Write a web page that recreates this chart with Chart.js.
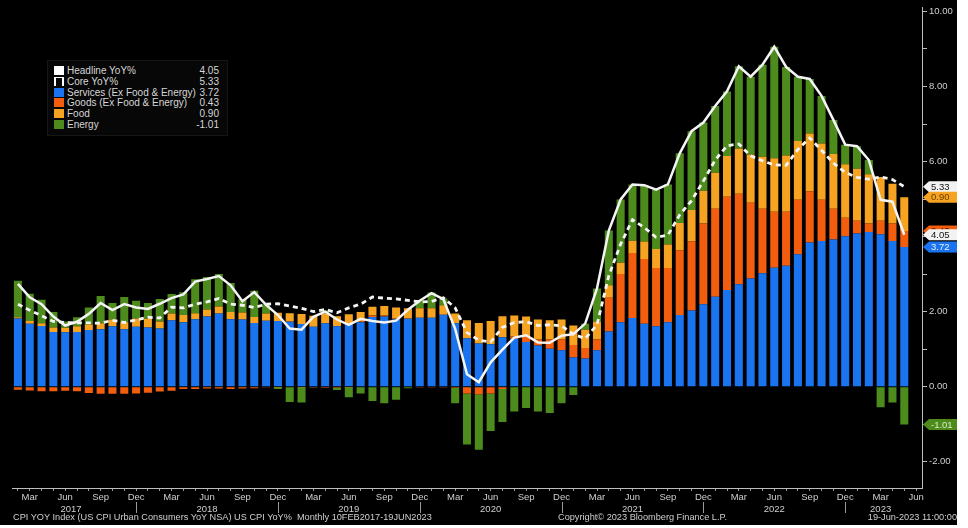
<!DOCTYPE html>
<html>
<head>
<meta charset="utf-8">
<script src="https://cdn.jsdelivr.net/npm/chart.js@4.4.1/dist/chart.umd.min.js"></script>
<style>
html, body { margin: 0; padding: 0; background: #fff; }
#wrap { position: relative; width: 957px; height: 525px; background: #000; overflow: hidden; font-family: "Liberation Sans", Arial, sans-serif; }
#chart { position: absolute; left: 0; top: 0; }
#legend { position: absolute; left: 47px; top: 60px; width: 179px; height: 74px; background: #070707; border: 1px solid #161616; }
.row { position: absolute; left: 6px; right: 8px; height: 11px; font-size: 10px; line-height: 11px; color: #d6d6d6; white-space: nowrap; }
.sw { position: absolute; left: 0; top: 1px; width: 10px; height: 9px; }
.sw.dash { width: 6px; height: 8px; background: transparent; border-left: 2px dashed #fff; border-right: 2px dashed #fff; border-top: 1px solid #fff; top: 1px; }
.lab { position: absolute; left: 13px; }
.val { position: absolute; right: 0; }
.foot { position: absolute; top: 512px; font-size: 9.2px; line-height: 11px; color: #cfcfcf; white-space: nowrap; }
</style>
</head>
<body>
<div id="wrap">
  <canvas id="chart" width="957" height="525"></canvas>
  <div id="legend"></div>
  <div class="foot" style="left:13px">CPI YOY Index (US CPI Urban Consumers YoY NSA) US CPI YoY%&nbsp; Monthly 10FEB2017-19JUN2023</div>
  <div class="foot" style="left:558px">Copyright© 2023 Bloomberg Finance L.P.</div>
  <div class="foot" style="right:0">19-Jun-2023 11:00:00</div>
</div>
<script>
// monthly categories, Feb 2017 .. Jun 2023 (last month has no data yet)
const months = [
  'Feb 2017','Mar 2017','Apr 2017','May 2017','Jun 2017','Jul 2017','Aug 2017','Sep 2017','Oct 2017','Nov 2017','Dec 2017',
  'Jan 2018','Feb 2018','Mar 2018','Apr 2018','May 2018','Jun 2018','Jul 2018','Aug 2018','Sep 2018','Oct 2018','Nov 2018','Dec 2018',
  'Jan 2019','Feb 2019','Mar 2019','Apr 2019','May 2019','Jun 2019','Jul 2019','Aug 2019','Sep 2019','Oct 2019','Nov 2019','Dec 2019',
  'Jan 2020','Feb 2020','Mar 2020','Apr 2020','May 2020','Jun 2020','Jul 2020','Aug 2020','Sep 2020','Oct 2020','Nov 2020','Dec 2020',
  'Jan 2021','Feb 2021','Mar 2021','Apr 2021','May 2021','Jun 2021','Jul 2021','Aug 2021','Sep 2021','Oct 2021','Nov 2021','Dec 2021',
  'Jan 2022','Feb 2022','Mar 2022','Apr 2022','May 2022','Jun 2022','Jul 2022','Aug 2022','Sep 2022','Oct 2022','Nov 2022','Dec 2022',
  'Jan 2023','Feb 2023','Mar 2023','Apr 2023','May 2023','Jun 2023'
];

const headline = [
  2.74, 2.38, 2.20, 1.87, 1.63, 1.73, 1.94, 2.23, 2.04, 2.20, 2.11,
  2.07, 2.21, 2.36, 2.46, 2.80, 2.87, 2.95, 2.70, 2.28, 2.52, 2.18, 1.91,
  1.55, 1.52, 1.86, 2.00, 1.79, 1.65, 1.81, 1.75, 1.71, 1.76, 2.05, 2.29,
  2.49, 2.33, 1.54, 0.33, 0.12, 0.65, 0.99, 1.31, 1.37, 1.18, 1.17, 1.36,
  1.40, 1.68, 2.62, 4.16, 4.99, 5.39, 5.37, 5.25, 5.39, 6.22, 6.81, 7.04,
  7.48, 7.87, 8.54, 8.26, 8.58, 9.06, 8.52, 8.26, 8.20, 7.75, 7.11, 6.45,
  6.41, 6.04, 4.98, 4.93, 4.05
];

const core = [
  2.20, 2.04, 1.89, 1.74, 1.71, 1.70, 1.70, 1.69, 1.77, 1.71, 1.78,
  1.85, 1.83, 2.12, 2.10, 2.20, 2.26, 2.35, 2.20, 2.17, 2.11, 2.20, 2.21,
  2.15, 2.09, 2.00, 2.06, 1.97, 2.10, 2.20, 2.39, 2.36, 2.34, 2.30, 2.26,
  2.27, 2.37, 2.10, 1.44, 1.24, 1.19, 1.58, 1.71, 1.73, 1.63, 1.65, 1.62,
  1.40, 1.28, 1.65, 2.96, 3.80, 4.45, 4.24, 3.98, 4.04, 4.58, 4.96, 5.48,
  6.04, 6.42, 6.47, 6.15, 6.02, 5.91, 5.90, 6.32, 6.63, 6.30, 5.96, 5.71,
  5.58, 5.53, 5.59, 5.52, 5.33
];

const services = [
  1.82, 1.68, 1.62, 1.46, 1.45, 1.46, 1.51, 1.53, 1.61, 1.53, 1.60,
  1.58, 1.55, 1.77, 1.72, 1.80, 1.87, 1.95, 1.80, 1.79, 1.70, 1.76, 1.75,
  1.73, 1.67, 1.60, 1.69, 1.61, 1.67, 1.72, 1.86, 1.87, 1.80, 1.81, 1.84,
  1.84, 1.92, 1.69, 1.29, 1.15, 1.13, 1.32, 1.28, 1.19, 1.10, 1.01, 0.97,
  0.78, 0.75, 0.97, 1.47, 1.72, 1.83, 1.68, 1.61, 1.72, 1.91, 2.03, 2.20,
  2.40, 2.58, 2.73, 2.88, 3.02, 3.17, 3.22, 3.53, 3.84, 3.88, 3.92, 4.01,
  4.08, 4.12, 4.06, 3.88, 3.72
];

const goods = [
  -0.08, -0.10, -0.12, -0.12, -0.11, -0.12, -0.17, -0.19, -0.19, -0.19, -0.18,
  -0.16, -0.13, -0.11, -0.06, -0.06, -0.05, -0.05, -0.06, -0.05, -0.04, -0.02, -0.01,
  0.01, -0.01, -0.02, -0.03, -0.03, -0.01, 0.02, 0.04, 0.03, 0.02, 0.01, -0.02,
  -0.02, -0.02, -0.03, -0.18, -0.20, -0.18, -0.06, 0.06, 0.15, 0.16, 0.25, 0.29,
  0.33, 0.28, 0.29, 0.90, 1.28, 1.73, 1.72, 1.55, 1.44, 1.72, 1.84, 2.15,
  2.34, 2.48, 2.41, 2.02, 1.72, 1.49, 1.44, 1.45, 1.37, 1.10, 0.82, 0.49,
  0.34, 0.23, 0.36, 0.47, 0.43
];

const food = [
  0.03, 0.07, 0.07, 0.12, 0.12, 0.15, 0.15, 0.16, 0.18, 0.19, 0.22,
  0.23, 0.19, 0.18, 0.19, 0.16, 0.19, 0.19, 0.19, 0.19, 0.16, 0.19, 0.22,
  0.22, 0.27, 0.29, 0.26, 0.27, 0.26, 0.25, 0.23, 0.25, 0.29, 0.27, 0.25,
  0.25, 0.25, 0.26, 0.48, 0.55, 0.62, 0.56, 0.56, 0.53, 0.53, 0.51, 0.53,
  0.52, 0.49, 0.48, 0.33, 0.30, 0.33, 0.47, 0.51, 0.63, 0.73, 0.84, 0.87,
  0.96, 1.09, 1.21, 1.29, 1.39, 1.43, 1.50, 1.57, 1.54, 1.50, 1.46, 1.43,
  1.39, 1.31, 1.17, 1.06, 0.90
];

const energy = [
  0.97, 0.73, 0.63, 0.41, 0.17, 0.24, 0.45, 0.73, 0.44, 0.67, 0.47,
  0.42, 0.60, 0.52, 0.61, 0.90, 0.86, 0.86, 0.77, 0.35, 0.70, 0.25, -0.05,
  -0.41, -0.41, -0.01, 0.08, -0.06, -0.27, -0.18, -0.38, -0.44, -0.35, -0.04, 0.22,
  0.42, 0.18, -0.41, -1.36, -1.48, -1.00, -0.88, -0.66, -0.57, -0.66, -0.70, -0.44,
  -0.22, 0.16, 0.88, 1.46, 1.69, 1.50, 1.50, 1.58, 1.60, 1.86, 2.10, 1.82,
  1.78, 1.72, 2.19, 2.07, 2.45, 2.97, 2.36, 1.71, 1.45, 1.27, 0.91, 0.52,
  0.60, 0.38, -0.55, -0.42, -1.01
];

const quarterMonths = ['Mar', 'Jun', 'Sep', 'Dec'];

const COLORS = {
  services: '#1b74ef',
  goods: '#f25e0d',
  food: '#f5a321',
  energy: '#4d8b1d',
  line: '#f4f4f4'
};

// legend (html so text stays text)
const legendRows = [
  { name: 'Headline YoY%', color: '#ffffff', value: headline[headline.length - 1] },
  { name: 'Core YoY%', dash: true, value: core[core.length - 1] },
  { name: 'Services (Ex Food & Energy)', color: COLORS.services, value: services[services.length - 1] },
  { name: 'Goods (Ex Food & Energy)', color: COLORS.goods, value: goods[goods.length - 1] },
  { name: 'Food', color: COLORS.food, value: food[food.length - 1] },
  { name: 'Energy', color: COLORS.energy, value: energy[energy.length - 1] }
];
const legendEl = document.getElementById('legend');
legendRows.forEach((r, i) => {
  const row = document.createElement('div');
  row.className = 'row';
  row.style.top = (4 + i * 10.8) + 'px';
  const sw = document.createElement('span');
  sw.className = r.dash ? 'sw dash' : 'sw';
  if (!r.dash) sw.style.background = r.color;
  const lab = document.createElement('span');
  lab.className = 'lab';
  lab.textContent = r.name;
  const val = document.createElement('span');
  val.className = 'val';
  val.textContent = r.value.toFixed(2);
  row.append(sw, lab, val);
  legendEl.appendChild(row);
});

// year labels under the month ticks, with separators at December
const yearAxisPlugin = {
  id: 'yearAxis',
  afterDraw(chart) {
    const x = chart.scales.x;
    const ctx = chart.ctx;
    const cat = x.getPixelForValue(1) - x.getPixelForValue(0);
    const years = {};
    months.forEach((m, i) => {
      const y = m.slice(4);
      if (!years[y]) years[y] = [i, i];
      years[y][1] = i;
    });
    ctx.save();
    ctx.font = '9.5px "Liberation Sans", Arial, sans-serif';
    ctx.fillStyle = '#cfcfcf';
    ctx.textAlign = 'center';
    ctx.textBaseline = 'middle';
    Object.keys(years).forEach(y => {
      const [a, b] = years[y];
      const cx = (x.getPixelForValue(a) + x.getPixelForValue(b)) / 2 - cat / 2;
      ctx.fillText(y, cx, 509);
    });
    ctx.strokeStyle = '#9a9a9a';
    ctx.lineWidth = 1;
    months.forEach((m, i) => {
      if (m.startsWith('Dec')) {
        const px = Math.round(x.getPixelForValue(i)) + 0.5;
        ctx.beginPath();
        ctx.moveTo(px, 502);
        ctx.lineTo(px, 513);
        ctx.stroke();
      }
    });
    ctx.restore();
  }
};

// last-value tags on the right axis
const valueTagPlugin = {
  id: 'valueTags',
  afterDraw(chart) {
    const y = chart.scales.y;
    const ctx = chart.ctx;
    const n = services.length - 1;
    const left = chart.chartArea.right + 1;
    const svcTop = services[n];
    const goodsTop = services[n] + Math.max(goods[n], 0);
    const foodTop = goodsTop + Math.max(food[n], 0);
    const negBottom = Math.min(goods[n], 0) + Math.min(energy[n], 0);
    const tags = [
      { v: core[n], at: core[n], bg: '#f2f2f2', fg: '#111' },
      { v: food[n], at: foodTop, bg: COLORS.food, fg: '#6a3c00' },
      { v: goods[n], at: goodsTop, bg: COLORS.goods, fg: '#3a1400' },
      { v: headline[n], at: headline[n], bg: '#f2f2f2', fg: '#111' },
      { v: services[n], at: svcTop, bg: COLORS.services, fg: '#e8f0ff' },
      { v: energy[n], at: negBottom, bg: COLORS.energy, fg: '#d9efc4' }
    ];
    ctx.save();
    ctx.font = '9.5px "Liberation Sans", Arial, sans-serif';
    ctx.textBaseline = 'middle';
    ctx.textAlign = 'left';
    tags.forEach(t => {
      const py = y.getPixelForValue(t.at);
      ctx.fillStyle = t.bg;
      ctx.beginPath();
      ctx.moveTo(left, py);
      ctx.lineTo(left + 6, py - 5.5);
      ctx.lineTo(left + 35, py - 5.5);
      ctx.lineTo(left + 35, py + 5.5);
      ctx.lineTo(left + 6, py + 5.5);
      ctx.closePath();
      ctx.fill();
      ctx.fillStyle = t.fg;
      ctx.fillText(t.v.toFixed(2), left + 8, py + 0.5);
    });
    ctx.restore();
  }
};

const barSet = (label, data, color) => ({
  type: 'bar', label, data, backgroundColor: color,
  stack: 'parts', order: 1,
  barPercentage: 0.68, categoryPercentage: 1.0
});

const ctx = document.getElementById('chart').getContext('2d');
new Chart(ctx, {
  data: {
    labels: months,
    datasets: [
      { type: 'line', label: 'Headline YoY%', data: headline, borderColor: COLORS.line, borderWidth: 2.5,
        pointRadius: 0, tension: 0, stack: 'h', order: 0 },
      { type: 'line', label: 'Core YoY%', data: core, borderColor: COLORS.line, borderWidth: 2.8,
        borderDash: [5, 4], pointRadius: 0, tension: 0, stack: 'c', order: 0 },
      barSet('Services (Ex Food & Energy)', services, COLORS.services),
      barSet('Goods (Ex Food & Energy)', goods, COLORS.goods),
      barSet('Food', food, COLORS.food),
      barSet('Energy', energy, COLORS.energy)
    ]
  },
  options: {
    responsive: false,
    animation: false,
    layout: { padding: { left: 12, top: 3, right: 0, bottom: 0 } },
    plugins: { legend: { display: false }, tooltip: { enabled: false } },
    scales: {
      x: {
        stacked: true,
        offset: true,
        afterFit: s => { s.height = 37; },
        grid: { offset: false, drawOnChartArea: false, drawTicks: true, tickLength: 3, color: '#9a9a9a' },
        border: { color: '#bdbdbd', width: 1 },
        ticks: {
          autoSkip: false, maxRotation: 0, padding: 1,
          color: '#cfcfcf', font: { size: 9.5, family: '"Liberation Sans", Arial, sans-serif' },
          callback: (v, i) => quarterMonths.includes(months[i].slice(0, 3)) ? months[i].slice(0, 3) : ''
        }
      },
      y: {
        stacked: true,
        position: 'right',
        min: -2.7,
        max: 10.1,
        afterFit: s => { s.width = 35; },
        grid: { drawOnChartArea: false, drawTicks: true, tickLength: 5, color: '#bdbdbd' },
        border: { color: '#bdbdbd', width: 1 },
        ticks: {
          stepSize: 1, includeBounds: false, padding: 2,
          color: '#cfcfcf', font: { size: 9.5, family: '"Liberation Sans", Arial, sans-serif' },
          callback: v => (Math.round(v) % 2 === 0 ? v.toFixed(2) : '')
        }
      }
    }
  },
  plugins: [yearAxisPlugin, valueTagPlugin]
});
</script>
</body>
</html>
